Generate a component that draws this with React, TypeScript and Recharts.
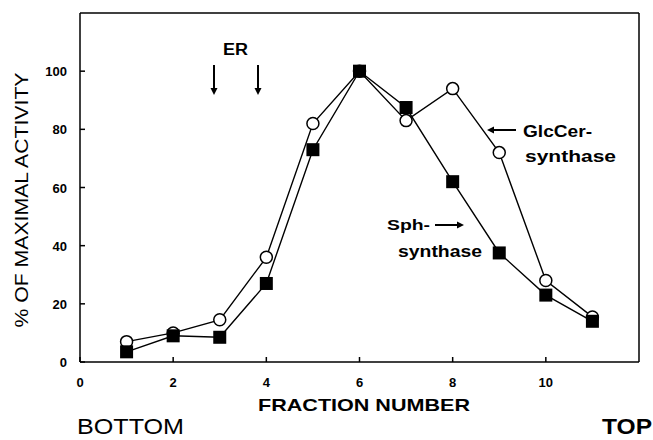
import { Line, LineChart, XAxis, YAxis, ReferenceLine } from "recharts";

const fractions = [1, 2, 3, 4, 5, 6, 7, 8, 9, 10, 11];
const glcCerSynthase = [7, 10, 14.5, 36, 82, 100, 83, 94, 72, 28, 15.5];
const sphSynthase = [3.5, 9, 8.5, 27, 73, 100, 87.5, 62, 37.5, 23, 14];
const xTicks = [0, 2, 4, 6, 8, 10];
const yTicks = [0, 20, 40, 60, 80, 100];

const data = fractions.map((f, i) => ({
  f,
  glc: glcCerSynthase[i],
  sph: sphSynthase[i],
}));

const FONT = '"Liberation Sans", Arial, Helvetica, sans-serif';

const XTick = (props: any) => {
  const { x, y, payload } = props;
  return (
    <g>
      <line x1={x} x2={x} y1={y} y2={y - 5} stroke="#000" strokeWidth={1.5} />
      <text x={x} y={y + 25} textAnchor="middle" fontFamily={FONT} fontWeight="bold" fontSize={13} fill="#000">
        {payload.value}
      </text>
    </g>
  );
};

const YTick = (props: any) => {
  const { x, y, payload } = props;
  return (
    <g>
      <line x1={x} x2={x + 5} y1={y} y2={y} stroke="#000" strokeWidth={1.5} />
      <text x={x - 13} y={y + 5} textAnchor="end" fontFamily={FONT} fontWeight="bold" fontSize={13} fill="#000">
        {payload.value}
      </text>
    </g>
  );
};

const OpenCircle = (props: any) => {
  const { cx, cy } = props;
  if (cx == null || cy == null) return null;
  return <circle cx={cx} cy={cy} r={6} fill="#fff" stroke="#000" strokeWidth={1.5} />;
};

const FilledSquare = (props: any) => {
  const { cx, cy } = props;
  if (cx == null || cy == null) return null;
  return <rect x={cx - 6.5} y={cy - 6.5} width={13} height={13} fill="#000" />;
};

const Arrow = ({ x1, y1, x2, y2 }: { x1: number; y1: number; x2: number; y2: number }) => {
  const a = Math.atan2(y2 - y1, x2 - x1);
  const h = 7;
  const w = 3.5;
  const bx = x2 - h * Math.cos(a);
  const by = y2 - h * Math.sin(a);
  const px = -Math.sin(a) * w;
  const py = Math.cos(a) * w;
  return (
    <g>
      <line x1={x1} y1={y1} x2={bx} y2={by} stroke="#000" strokeWidth={2} />
      <polygon points={`${x2},${y2} ${bx + px},${by + py} ${bx - px},${by - py}`} fill="#000" />
    </g>
  );
};

export default function App() {
  return (
    <div style={{ position: "absolute", left: 0, top: 0, width: 653, height: 440, background: "#fff" }}>
      <LineChart width={653} height={440} data={data} margin={{ top: 13, right: 14, left: 20, bottom: 38 }}>
        <XAxis
          dataKey="f"
          type="number"
          domain={[0, 12]}
          ticks={xTicks}
          tick={<XTick />}
          tickLine={false}
          tickSize={0}
          tickMargin={0}
          height={40}
          axisLine={{ stroke: "#000", strokeWidth: 1.5 }}
        />
        <YAxis
          type="number"
          domain={[0, 120]}
          ticks={yTicks}
          tick={<YTick />}
          tickLine={false}
          tickSize={0}
          tickMargin={0}
          width={60}
          axisLine={{ stroke: "#000", strokeWidth: 1.5 }}
        />
        <ReferenceLine y={120} stroke="#000" strokeWidth={1.5} />
        <ReferenceLine x={12} stroke="#000" strokeWidth={1.5} />
        <Line
          dataKey="glc"
          stroke="#000"
          strokeWidth={1.4}
          dot={<OpenCircle />}
          activeDot={false}
          isAnimationActive={false}
        />
        <Line
          dataKey="sph"
          stroke="#000"
          strokeWidth={1.4}
          dot={<FilledSquare />}
          activeDot={false}
          isAnimationActive={false}
        />
      </LineChart>
      <svg
        width={653}
        height={440}
        style={{ position: "absolute", left: 0, top: 0, pointerEvents: "none" }}
        fontFamily={FONT}
      >
        <text x={21} y={200} transform="rotate(-90 21 200)" textAnchor="middle" dominantBaseline="central" fontSize={19} textLength={255} lengthAdjust="spacingAndGlyphs">
          % OF MAXIMAL ACTIVITY
        </text>
        <text x={258} y={411} fontSize={17} fontWeight="bold" textLength={212} lengthAdjust="spacingAndGlyphs">
          FRACTION NUMBER
        </text>
        <text x={77} y={434} fontSize={22} textLength={107} lengthAdjust="spacingAndGlyphs">
          BOTTOM
        </text>
        <text x={602} y={434} fontSize={22} fontWeight="bold" textLength={50} lengthAdjust="spacingAndGlyphs">
          TOP
        </text>
        <text x={223} y={55} fontSize={16} fontWeight="bold" textLength={25} lengthAdjust="spacingAndGlyphs">
          ER
        </text>
        <Arrow x1={214} y1={65} x2={214} y2={95} />
        <Arrow x1={258} y1={65} x2={258} y2={95} />
        <Arrow x1={516} y1={130} x2={487} y2={130} />
        <text x={523} y={137} fontSize={17} fontWeight="bold" textLength={69} lengthAdjust="spacingAndGlyphs">
          GlcCer-
        </text>
        <text x={525} y={162} fontSize={17} fontWeight="bold" textLength={91} lengthAdjust="spacingAndGlyphs">
          synthase
        </text>
        <text x={387} y={230} fontSize={15} fontWeight="bold" textLength={43} lengthAdjust="spacingAndGlyphs">
          Sph-
        </text>
        <Arrow x1={435} y1={225} x2={464} y2={225} />
        <text x={398} y={257} fontSize={17} fontWeight="bold" textLength={84} lengthAdjust="spacingAndGlyphs">
          synthase
        </text>
      </svg>
    </div>
  );
}
